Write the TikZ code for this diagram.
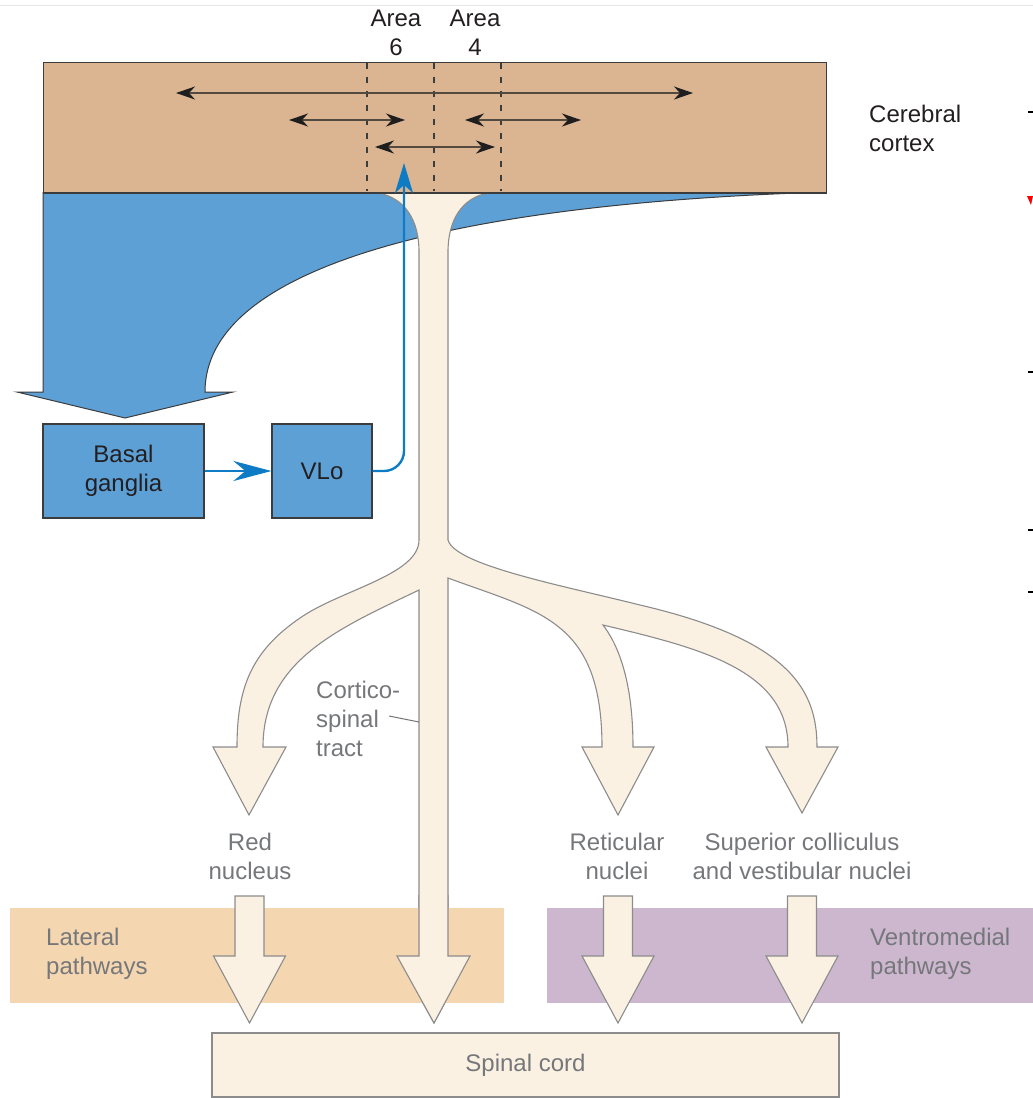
\documentclass[tikz,border=0pt]{standalone}
\usepackage{fontspec}
\setmainfont{Liberation Sans}
\usetikzlibrary{arrows.meta}
\definecolor{cortexc}{HTML}{DBB592}
\definecolor{bgblue}{HTML}{5DA0D6}
\definecolor{linkblue}{HTML}{0E7CC4}
\definecolor{cream}{HTML}{FAF1E2}
\definecolor{tractline}{HTML}{8C8C8C}
\definecolor{latband}{HTML}{F4D6B1}
\definecolor{ventband}{HTML}{CCB7CF}
\definecolor{txtdark}{HTML}{231F20}
\definecolor{txtgray}{HTML}{76777A}
\definecolor{edgedark}{HTML}{3C3C3C}
\definecolor{shaftc}{HTML}{54493F}
\definecolor{headc}{HTML}{1E1E1E}
\tikzset{
  lbl/.style={font=\fontsize{24}{29}\selectfont, text=txtdark, inner sep=0pt, align=center},
  glbl/.style={lbl, text=txtgray},
  bluebox/.style={draw=edgedark, fill=bgblue, line width=1.1pt},
  creambox/.style={draw=tractline, fill=cream, line width=1.1pt},
  dbl/.style={{Stealth[length=19pt,width=13pt,inset=6pt,color=headc]}-{Stealth[length=19pt,width=13pt,inset=6pt,color=headc]}, line width=1.8pt, draw=shaftc},
  tract/.style={fill=cream, draw=tractline, line width=1.1pt, line join=miter},
  bluelink/.style={draw=linkblue, line width=2.4pt},
  dashline/.style={draw=edgedark, line width=1.1pt, dash pattern=on 6pt off 8pt},
}
\begin{document}
\begin{tikzpicture}[x=1pt,y=-1pt]
\useasboundingbox (0,0) rectangle (1033,1098);
\draw[black!10, line width=0.8pt] (0,5) -- (1033,5);

% blue projection to basal ganglia
\fill[bgblue] (43,192) -- (43,392) -- (17,392) -- (125,418) -- (233,392) -- (205,392)
  .. controls (205,262) and (470,203) .. (826,192) -- cycle;
\draw[edgedark, line width=1pt] (43,192) -- (43,392) -- (17,392) -- (125,418) -- (233,392) -- (205,392)
  .. controls (205,262) and (470,203) .. (826,192);

% cream tract
\path[tract]
  (378,193) .. controls (405,198) and (419,220) .. (419,252)
  -- (419,540)
  .. controls (419,575) and (340,590) .. (300,618)
  .. controls (250,652) and (237,690) .. (237,747)
  -- (213,747) -- (249,815) -- (286,747) -- (263,747)
  .. controls (263,660) and (340,628) .. (419,590)
  -- (419,956) -- (397,956) -- (434,1023) -- (470,956) -- (448,956)
  -- (448,578)
  .. controls (540,612) and (602,620) .. (602,747)
  -- (582,747) -- (618,815) -- (654,747) -- (633,747)
  .. controls (633,690) and (622,650) .. (603,625)
  .. controls (700,648) and (788,670) .. (788,747)
  -- (766,747) -- (802,813) -- (838,747) -- (817,747)
  .. controls (817,690) and (790,640) .. (640,605)
  .. controls (560,585) and (455,565) .. (448,540)
  -- (448,252)
  .. controls (448,220) and (462,198) .. (488,193)
  -- cycle;

% cortex
\node[fill=cortexc, draw=edgedark, line width=1pt, minimum width=783pt, minimum height=130pt, inner sep=0pt] (cortex) at (434.5,127) {};
\draw[edgedark, line width=2pt] (cortex.south west) -- (cortex.south east);
\foreach \x in {367,434,501} \draw[dashline] (\x,63) -- (\x,191);
\draw[dbl] (176,93) -- (693,93);
\draw[dbl] (289,120) -- (405,120);
\draw[dbl] (465,120) -- (581,120);
\draw[dbl] (375,147) -- (495,147);

\node[lbl] (a6) at (396,33) {Area\\6};
\node[lbl] (a4) at (475,33) {Area\\4};
\node[lbl, anchor=west, align=left] (cc) at (869,128) {Cerebral\\cortex};

% basal ganglia and VLo
\node[lbl, bluebox, minimum width=161pt, minimum height=94pt] (basal) at (123.5,471) {Basal\\ganglia};
\node[lbl, bluebox, minimum width=100pt, minimum height=94pt] (vlo) at (322,471) {VLo};
\coordinate (ctx) at (404,163);
\draw[bluelink, -{Stealth[length=38pt,width=20pt,inset=12pt]}] (basal.east) -- (vlo.west);
\draw[bluelink, rounded corners=20pt, -{Stealth[length=30pt,width=18pt,inset=8pt]}] (vlo.east) -- (404,471) -- (ctx);

% labels along tract
\node[glbl, anchor=west, align=left] (cst) at (316,719) {Cortico-\\spinal\\tract};
\coordinate (cstl) at (389,716);
\coordinate (cstp) at (419,722);
\draw[txtgray, line width=1pt] (cstl) -- (cstp);
\node[glbl] (red) at (250,856) {Red\\nucleus};
\node[glbl] (ret) at (617,856) {Reticular\\nuclei};
\node[glbl] (sup) at (802,856) {Superior colliculus\\and vestibular nuclei};

% pathway bands
\fill[latband] (10,908) rectangle (504,1003);
\fill[ventband] (547,908) rectangle (1033,1003);
\node[glbl, anchor=west, align=left] (lat) at (46,954) {Lateral\\pathways};
\node[glbl, anchor=west, align=left] (vent) at (870,954) {Ventromedial\\pathways};

% lower arrows
\foreach \c in {249.5,618,802} {
  \path[tract] (\c-14.5,896) -- (\c+14.5,896) -- (\c+14.5,956) -- (\c+36,956) -- (\c,1023)
    -- (\c-36,956) -- (\c-14.5,956) -- cycle;
}
% redraw center tract shaft over the band
\path[tract] (419,895) -- (419,956) -- (397,956) -- (434,1023) -- (470,956) -- (448,956) -- (448,895);
\fill[cream] (419.6,890) rectangle (447.4,957);

% spinal cord
\node[glbl, creambox, minimum width=627pt, minimum height=64pt] (spinal) at (525.5,1065) {Spinal cord};

% cropped marks at the right edge
\draw[black, line width=1.5pt] (1028,112) -- (1033,112);
\fill[red] (1027,196) -- (1033,196) -- (1031,205) -- cycle;
\draw[black, line width=1.5pt] (1028,372) -- (1033,372);
\draw[black, line width=1.5pt] (1028,530) -- (1033,530);
\draw[black, line width=1.5pt] (1028,592) -- (1033,592);
\end{tikzpicture}
\end{document}
